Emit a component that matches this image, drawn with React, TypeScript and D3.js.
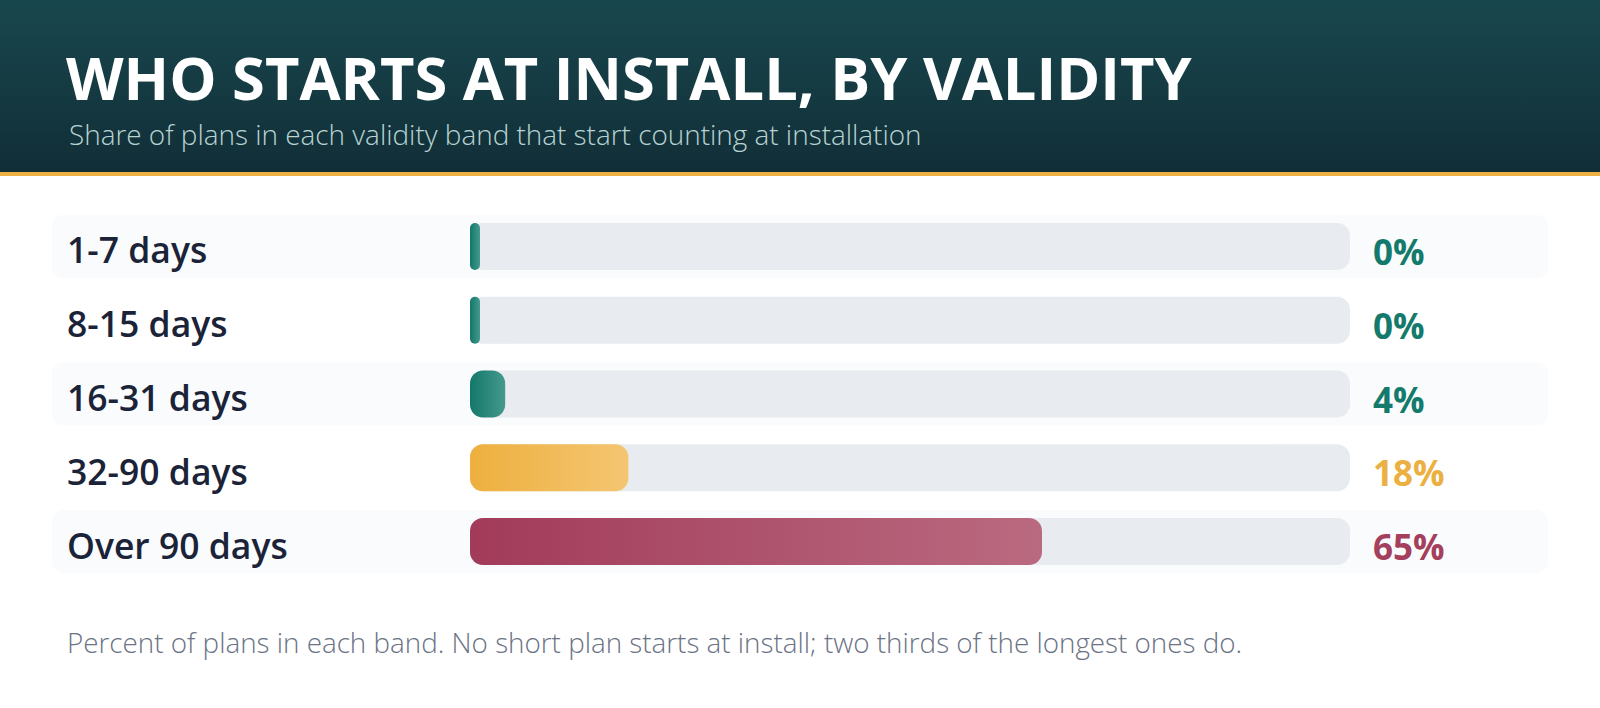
import React, { useEffect, useRef } from 'react';
import * as d3 from 'd3';

const WIDTH = 1600;
const HEIGHT = 708;

const bands = ['1-7 days', '8-15 days', '16-31 days', '32-90 days', 'Over 90 days'];
const shares = [0, 0, 4, 18, 65];
const tones = ['teal', 'teal', 'teal', 'gold', 'crimson'];

const palette: Record<string, { from: string; to: string; text: string }> = {
  teal: { from: '#12786a', to: '#45998d', text: '#147a6c' },
  gold: { from: '#eeaf3e', to: '#f4c672', text: '#ecb042' },
  crimson: { from: '#a23b5a', to: '#ba6a80', text: '#a43f5d' },
};

const FONT = '"Open Sans", "Noto Sans", sans-serif';

const App: React.FC = () => {
  const svgRef = useRef<SVGSVGElement>(null);

  useEffect(() => {
    if (!svgRef.current) return;
    const svg = d3.select(svgRef.current);
    svg.selectAll('*').remove();

    const defs = svg.append('defs');

    // header gradient
    const hg = defs.append('linearGradient').attr('id', 'hdr').attr('x1', 0).attr('y1', 0).attr('x2', 0).attr('y2', 1);
    hg.append('stop').attr('offset', '0%').attr('stop-color', '#19474e');
    hg.append('stop').attr('offset', '100%').attr('stop-color', '#112e37');

    Object.entries(palette).forEach(([k, c]) => {
      const g = defs.append('linearGradient').attr('id', `bar-${k}`).attr('x1', 0).attr('y1', 0).attr('x2', 1).attr('y2', 0);
      g.append('stop').attr('offset', '0%').attr('stop-color', c.from);
      g.append('stop').attr('offset', '100%').attr('stop-color', c.to);
    });

    svg.append('rect').attr('width', WIDTH).attr('height', HEIGHT).attr('fill', '#ffffff');

    // --- header ---
    svg.append('rect').attr('x', 0).attr('y', 0).attr('width', WIDTH).attr('height', 172).attr('fill', 'url(#hdr)');
    svg.append('rect').attr('x', 0).attr('y', 172).attr('width', WIDTH).attr('height', 4).attr('fill', '#eeb043');

    svg.append('text')
      .attr('x', 66).attr('y', 100)
      .attr('font-family', FONT).attr('font-weight', 700).attr('font-size', 59.6)
      .attr('fill', '#ffffff')
      .text('WHO STARTS AT INSTALL, BY VALIDITY');

    svg.append('text')
      .attr('x', 69).attr('y', 145)
      .attr('font-family', FONT).attr('font-weight', 300).attr('font-size', 27.9)
      .attr('fill', '#b7d3d2')
      .text('Share of plans in each validity band that start counting at installation');

    // --- rows ---
    const y = d3.scaleBand<string>().domain(bands).range([215, 573]).paddingInner(0.146).paddingOuter(0);
    const x = d3.scaleLinear().domain([0, 100]).range([470, 1350]);
    const trackH = 47;

    const rows = svg.selectAll('g.row').data(bands).enter().append('g').attr('class', 'row');
    const mid = (d: string) => y(d)! + y.bandwidth() / 2;

    rows.filter((_, i) => i % 2 === 0)
      .append('rect')
      .attr('x', 52).attr('width', 1496)
      .attr('y', d => y(d)!).attr('height', y.bandwidth())
      .attr('rx', 11)
      .attr('fill', '#f9fbfc');

    rows.append('rect')
      .attr('x', x(0)).attr('width', x(100) - x(0))
      .attr('y', d => mid(d) - trackH / 2).attr('height', trackH)
      .attr('rx', 13)
      .attr('fill', '#e8ecf0');

    rows.append('rect')
      .attr('x', x(0))
      .attr('width', (_, i) => Math.max(x(shares[i]) - x(0), 10))
      .attr('y', d => mid(d) - trackH / 2).attr('height', trackH)
      .attr('rx', (_, i) => (shares[i] === 0 ? 5 : 13))
      .attr('fill', (_, i) => `url(#bar-${tones[i]})`);

    rows.append('text')
      .attr('x', 67)
      .attr('y', d => mid(d) + 17)
      .attr('font-family', FONT).attr('font-weight', 600).attr('font-size', 35.5)
      .attr('fill', '#1b2338')
      .text(d => d);

    rows.append('text')
      .attr('x', 1373)
      .attr('y', d => mid(d) + 18.5)
      .attr('font-family', FONT).attr('font-weight', 700).attr('font-size', 35)
      .attr('fill', (_, i) => palette[tones[i]].text)
      .text((_, i) => `${shares[i]}%`);

    // --- footer ---
    svg.append('text')
      .attr('x', 67).attr('y', 653)
      .attr('font-family', FONT).attr('font-weight', 300).attr('font-size', 27.8)
      .attr('fill', '#6b7384')
      .text('Percent of plans in each band. No short plan starts at install; two thirds of the longest ones do.');
  }, []);

  return (
    <div style={{ position: 'absolute', left: 0, top: 0, width: WIDTH, height: HEIGHT }}>
      <svg ref={svgRef} width={WIDTH} height={HEIGHT} style={{ display: 'block' }} />
    </div>
  );
};

export default App;
